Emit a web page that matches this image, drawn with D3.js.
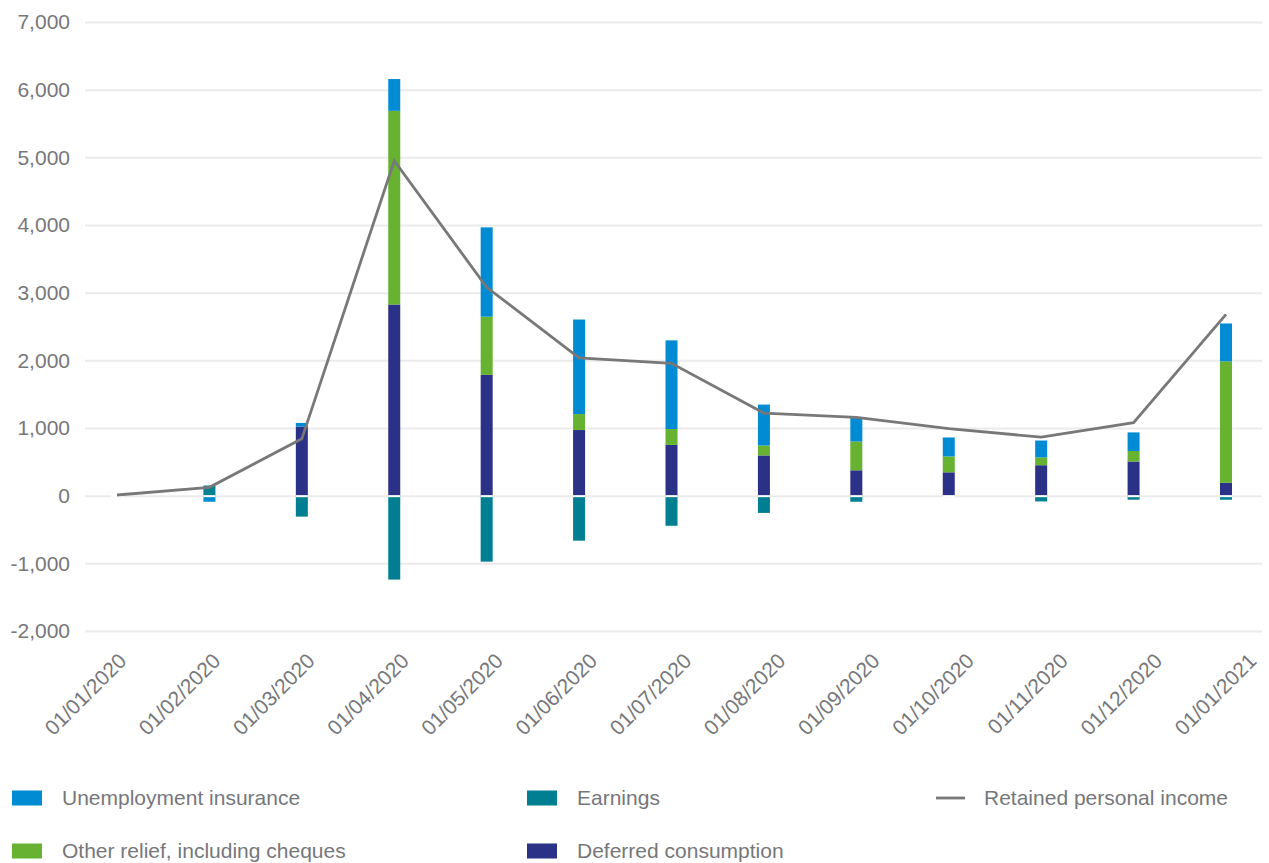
<!DOCTYPE html>
<html lang="en">
  <head>
    <meta charset="UTF-8" />
    <title>Retained personal income</title>
    <script src="https://d3js.org/d3.v7.min.js"></script>
    <style>
      body {
        margin: 0;
        font-family: "Liberation Sans", Arial, sans-serif;
        background: #fff;
      }
      svg {
        display: block;
      }
    </style>
  </head>
  <body>
    <svg id="chart" width="1269" height="863"></svg>

    <script>
      // values
      const dates = [
        "01/01/2020", "01/02/2020", "01/03/2020", "01/04/2020", "01/05/2020",
        "01/06/2020", "01/07/2020", "01/08/2020", "01/09/2020", "01/10/2020",
        "01/11/2020", "01/12/2020", "01/01/2021",
      ];
      const unemployment = [0, -90, 55, 470, 1320, 1397, 1310, 605, 350, 280, 250, 275, 560];
      const earnings = [0, 150, -310, -1240, -975, -665, -445, -255, -90, 0, -85, -60, -60];
      const otherRelief = [0, 0, 0, 2862, 860, 236, 235, 146, 425, 235, 115, 155, 1795];
      const deferred = [0, 0, 1020, 2825, 1785, 970, 750, 595, 375, 345, 450, 505, 190];
      const retained = [10, 123, 840, 4950, 3080, 2035, 1955, 1220, 1158, 990, 865, 1080, 2680];
      const yTicks = [-2000, -1000, 0, 1000, 2000, 3000, 4000, 5000, 6000, 7000];

      const textColor = "#76777b";
      const fontSize = "21px";
      const colors = {
        earnings: "#007f93",
        deferred: "#2b3187",
        otherRelief: "#67b231",
        unemployment: "#008bd2",
      };

      const svg = d3.select("#chart");

      const rows = dates.map((d, i) => ({
        date: d,
        earnings: earnings[i],
        deferred: deferred[i],
        otherRelief: otherRelief[i],
        unemployment: unemployment[i],
      }));

      const keys = ["earnings", "deferred", "otherRelief", "unemployment"];
      const series = d3
        .stack()
        .keys(keys)
        .offset(d3.stackOffsetDiverging)(rows);

      const x = d3.scalePoint().domain(dates).range([117, 1226]);
      // the date labels sit on a slightly wider spacing than the bars
      const xLabel = d3.scalePoint().domain(dates).range([122, 1252]);
      const y = d3.scaleLinear().domain([-2000, 7000]).range([631, 22]);
      const barW = 12;

      const fmt = d3.format(",");

      // grid + y labels
      const yAxis = svg
        .append("g")
        .attr("transform", "translate(85,0)")
        .call(
          d3.axisLeft(y)
            .tickValues(yTicks)
            .tickSize(-1177)
            .tickFormat((d) => fmt(d).replace("\u2212", "-"))
        );
      yAxis.select(".domain").remove();
      yAxis.selectAll("line").attr("stroke", "#ebebeb").attr("stroke-width", 2);
      yAxis
        .selectAll("text")
        .attr("x", -15)
        .attr("fill", textColor)
        .style("font-size", fontSize)
        .style("font-family", "'Liberation Sans', Arial, sans-serif");

      // bars
      svg
        .append("g")
        .selectAll("g")
        .data(series)
        .join("g")
        .attr("fill", (s) => colors[s.key])
        .selectAll("rect")
        .data((s) => s)
        .join("rect")
        .attr("x", (d) => x(d.data.date) - barW / 2)
        .attr("width", barW)
        .attr("y", (d) => y(Math.max(d[0], d[1])))
        .attr("height", (d) => Math.abs(y(d[0]) - y(d[1])));

      // thin white break at zero
      svg
        .append("g")
        .selectAll("rect")
        .data(dates)
        .join("rect")
        .attr("x", (d) => x(d) - barW / 2)
        .attr("width", barW)
        .attr("y", y(0) - 0.5)
        .attr("height", 2)
        .attr("fill", "#fff");

      // retained income line
      svg
        .append("path")
        .datum(retained)
        .attr("fill", "none")
        .attr("stroke", "#787878")
        .attr("stroke-width", 2.8)
        .attr("d", d3.line().x((d, i) => x(dates[i])).y((d) => y(d)));

      // x labels
      const xAxis = svg
        .append("g")
        .attr("transform", "translate(0,657)")
        .call(d3.axisBottom(xLabel).tickSize(0));
      xAxis.select(".domain").remove();
      xAxis
        .selectAll("text")
        .attr("fill", textColor)
        .style("font-size", fontSize)
        .style("font-family", "'Liberation Sans', Arial, sans-serif")
        .attr("text-anchor", "end")
        .attr("y", 0)
        .attr("dy", "0.35em")
        .attr("transform", "rotate(-45)");

      // legend
      const legendItems = [
        { label: "Unemployment insurance", color: colors.unemployment, type: "box", x: 12, y: 798 },
        { label: "Other relief, including cheques", color: colors.otherRelief, type: "box", x: 12, y: 851 },
        { label: "Earnings", color: colors.earnings, type: "box", x: 527, y: 798 },
        { label: "Deferred consumption", color: colors.deferred, type: "box", x: 527, y: 851 },
        { label: "Retained personal income", color: "#787878", type: "line", x: 936, y: 798 },
      ];

      const legend = svg
        .append("g")
        .selectAll("g")
        .data(legendItems)
        .join("g")
        .attr("transform", (d) => `translate(${d.x},${d.y})`);

      legend
        .filter((d) => d.type === "box")
        .append("rect")
        .attr("x", 0)
        .attr("y", -7.5)
        .attr("width", 30)
        .attr("height", 15)
        .attr("fill", (d) => d.color);

      legend
        .filter((d) => d.type === "line")
        .append("line")
        .attr("x1", 0)
        .attr("x2", 29)
        .attr("stroke", (d) => d.color)
        .attr("stroke-width", 2.8);

      legend
        .append("text")
        .attr("x", (d) => (d.type === "line" ? 48 : 50))
        .attr("dy", "0.35em")
        .attr("fill", textColor)
        .style("font-size", fontSize)
        .text((d) => d.label);
    </script>
  </body>
</html>
